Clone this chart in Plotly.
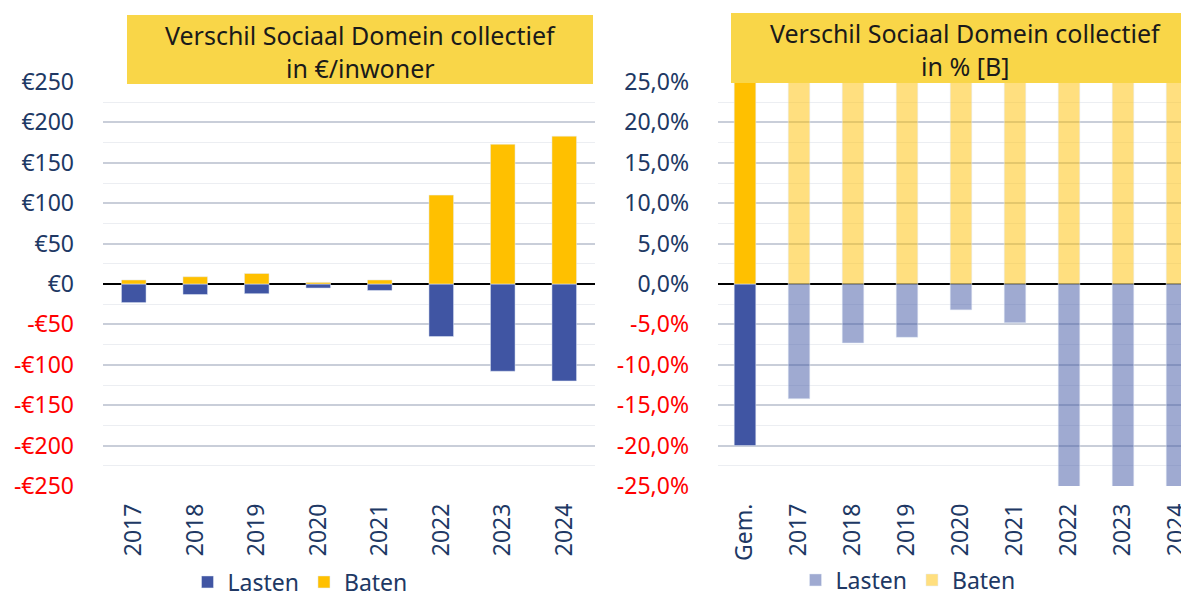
import plotly.graph_objects as go

# ---- data ----
years = ["2017", "2018", "2019", "2020", "2021", "2022", "2023", "2024"]
lasten_eur = [-23, -13, -12, -5, -8, -65, -108, -120]
baten_eur = [5, 9, 13, 2, 5, 110, 173, 183]

gem_label = ["Gem."]
gem_lasten_pct = [-20.0]
gem_baten_pct = [32.0]
lasten_pct = [-14.2, -7.3, -6.6, -3.2, -4.8, -30.0, -35.0, -36.0]
baten_pct = [40.0, 45.0, 45.0, 40.0, 42.0, 60.0, 70.0, 75.0]

left_tickvals = [250, 200, 150, 100, 50, 0, -50, -100, -150, -200, -250]
left_ticktext = ["€250", "€200", "€150", "€100", "€50", "€0",
                 "-€50", "-€100", "-€150", "-€200", "-€250"]
right_tickvals = [25, 20, 15, 10, 5, 0, -5, -10, -15, -20, -25]
right_ticktext = ["25,0%", "20,0%", "15,0%", "10,0%", "5,0%", "0,0%",
                  "-5,0%", "-10,0%", "-15,0%", "-20,0%", "-25,0%"]

left_title = ["Verschil Sociaal Domein collectief", "in €/inwoner"]
right_title = ["Verschil Sociaal Domein collectief", "in % [B]"]

NAVY = "#203864"
RED = "#FF0000"
BLUE = "#4055A3"
GOLD = "#FFC000"
BLUE_L = "rgba(64,85,163,0.5)"
GOLD_L = "rgba(255,192,0,0.5)"
FONT = "Noto Sans"
W, H = 1189, 597
OFF = 8  # page body margin


def px(x):
    return (x - OFF) / W


def py(y):
    return 1 - (y - OFF) / H


def color_labels(vals, texts):
    return [f"<span style='color:{RED}'>{t}</span>" if v < 0 else t
            for v, t in zip(vals, texts)]


fig = go.Figure()

# left chart
fig.add_trace(go.Bar(x=years, y=lasten_eur, name="Lasten", marker_color=BLUE,
                     xaxis="x", yaxis="y", legend="legend"))
fig.add_trace(go.Bar(x=years, y=baten_eur, name="Baten", marker_color=GOLD,
                     xaxis="x", yaxis="y", legend="legend"))

# right chart
fig.add_trace(go.Bar(x=gem_label, y=gem_lasten_pct, name="Lasten", marker_color=BLUE,
                     xaxis="x2", yaxis="y2", showlegend=False))
fig.add_trace(go.Bar(x=gem_label, y=gem_baten_pct, name="Baten", marker_color=GOLD,
                     xaxis="x2", yaxis="y2", showlegend=False))
fig.add_trace(go.Bar(x=years, y=lasten_pct, name="Lasten", marker_color=BLUE_L,
                     xaxis="x2", yaxis="y2", legend="legend2"))
fig.add_trace(go.Bar(x=years, y=baten_pct, name="Baten", marker_color=GOLD_L,
                     xaxis="x2", yaxis="y2", legend="legend2"))

y_dom = [py(486), py(82)]
common_y = dict(
    showgrid=True, gridcolor="#C9CED9", gridwidth=2,
    minor=dict(showgrid=True, gridcolor="#ECEEF2", gridwidth=1),
    zeroline=True, zerolinecolor="black", zerolinewidth=2,
    tickfont=dict(family=FONT, size=23, color=NAVY),
    ticks="", ticklabelstandoff=28, tickmode="array",
)
common_x = dict(
    showgrid=False, zeroline=False, tickangle=-90, ticks="",
    tickfont=dict(family=FONT, size=23, color=NAVY), ticklabelstandoff=12,
)

annotations = []
for cx, lines, y1, y2 in [(360, left_title, 35, 68), (965, right_title, 33, 66)]:
    for txt, yy in zip(lines, (y1, y2)):
        annotations.append(dict(
            xref="paper", yref="paper", x=px(cx), y=py(yy), borderpad=0,
            xanchor="center", yanchor="middle", showarrow=False, text=txt,
            font=dict(family=FONT, size=25, color="#1a1a1a")))

# right plot extends past page edge (page x 1197); 54 px per category from x=718
right_max = -0.5 + (1197 - 718) / 54.0

fig.update_layout(
    width=W, height=H,
    paper_bgcolor="white", plot_bgcolor="white",
    margin=dict(l=0, r=0, t=0, b=0, autoexpand=False),
    barmode="relative", bargap=0.6,
    xaxis=dict(domain=[px(103), px(595)], anchor="y", range=[-0.5, 7.5],
               categoryorder="array", categoryarray=years, **common_x),
    yaxis=dict(domain=y_dom, anchor="x", range=[-250, 250],
               tickvals=left_tickvals,
               ticktext=color_labels(left_tickvals, left_ticktext),
               minor_dtick=25, **common_y),
    xaxis2=dict(domain=[px(718), 1.0], anchor="y2", range=[-0.5, right_max],
                categoryorder="array", categoryarray=gem_label + years, **common_x),
    yaxis2=dict(domain=y_dom, anchor="x2", range=[-25, 25],
                tickvals=right_tickvals,
                ticktext=color_labels(right_tickvals, right_ticktext),
                minor_dtick=2.5, **common_y),
    legend=dict(orientation="h", x=px(300), xanchor="center", y=py(582), yanchor="middle",
                font=dict(family=FONT, size=23, color=NAVY), bgcolor="rgba(0,0,0,0)",
                itemwidth=30),
    legend2=dict(orientation="h", x=px(908), xanchor="center", y=py(580), yanchor="middle",
                 font=dict(family=FONT, size=23, color=NAVY), bgcolor="rgba(0,0,0,0)",
                 itemwidth=30),
    shapes=[
        dict(type="rect", xref="paper", yref="paper", layer="above",
             x0=px(127), x1=px(593), y0=py(84), y1=py(15),
             fillcolor="#F9D648", line=dict(width=0)),
        dict(type="rect", xref="paper", yref="paper", layer="above",
             x0=px(731), x1=1.0, y0=py(83), y1=py(13),
             fillcolor="#F9D648", line=dict(width=0)),
    ],
    annotations=annotations,
)

fig.write_html("out.html")
